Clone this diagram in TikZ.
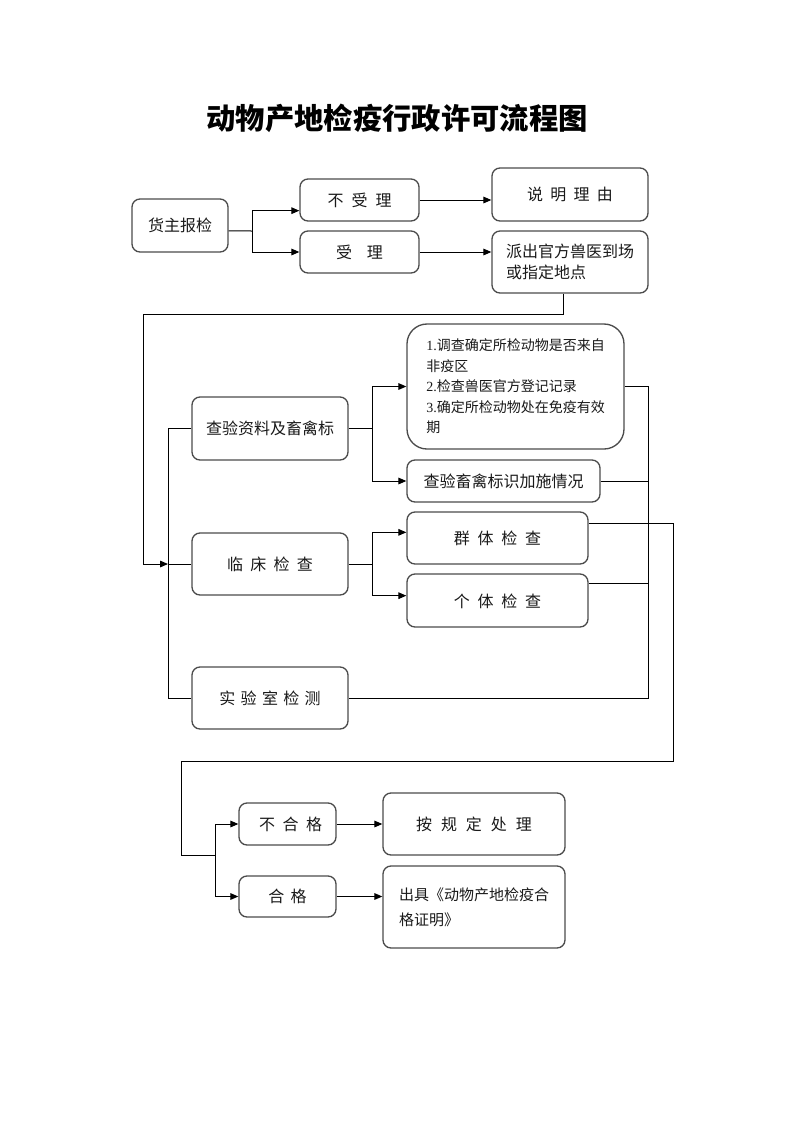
\documentclass[tikz,border=0pt]{standalone}
\usepackage{fontspec}
\setmainfont{Liberation Serif}
\newfontfamily\cjk{Noto Sans CJK SC}
\usetikzlibrary{arrows.meta,calc}
\newcommand\mkbox[7][]{\node[box,minimum width={(#5-#3)*0.75pt},minimum height={(#6-#4)*0.75pt},#1] (#2) at ({(#3+#5)/2},{(#4+#6)/2}) {#7};}
\newcommand\gp[1]{\hspace{#1em}}
\begin{document}
\begin{tikzpicture}[x=0.75pt,y=-0.75pt,
  box/.style={draw=black!70, line width=1pt, rounded corners=6pt, inner sep=0pt,
    font=\cjk\fontsize{12}{15.5}\selectfont, text=black!90},
  conn/.style={line width=0.75pt, draw=black},
  arr/.style={conn, -{Triangle[length=6pt,width=5pt]}}]
\useasboundingbox (0,0) rectangle (793,1122);
\node[font=\cjk\bfseries\fontsize{22}{26}\selectfont] (title) at (397,118) {动物产地检疫行政许可流程图};
\mkbox{hz}{132}{199}{228}{252}{货主报检\gp{0.6}}
\mkbox{bsl}{300}{179}{419}{221}{不\gp{.5}受\gp{.5}理}
\mkbox{sl}{300}{231}{419}{273}{受\gp{.92}理}
\mkbox{smly}{492}{168}{648}{221}{说\gp{.45}明\gp{.45}理\gp{.45}由}
\mkbox[align=left]{pc}{492}{231}{648}{293}{派出官方兽医到场\\或指定地点}
\mkbox{cy}{192}{397}{348}{460}{查验资料及畜禽标}
\mkbox[align=left,rounded corners=15pt,font=\cjk\fontsize{10.5}{15.4}\selectfont]{list}{407}{324}{624}{449}{\textrm{1.}调查确定所检动物是否来自\\非疫区\\\textrm{2.}检查兽医官方登记记录\\\textrm{3.}确定所检动物处在免疫有效\\期}
\mkbox{bs}{407}{460}{600}{502}{查验畜禽标识加施情况}
\mkbox{lc}{192}{533}{348}{595}{临\gp{.45}床\gp{.45}检\gp{.45}查}
\mkbox[text depth=-6pt]{qt}{407}{512}{588}{564}{群\gp{.48}体\gp{.48}检\gp{.48}查}
\mkbox[text depth=-8pt]{gt}{407}{574}{588}{627}{个\gp{.48}体\gp{.48}检\gp{.48}查}
\mkbox{sy}{192}{667}{348}{729}{实\gp{.33}验\gp{.33}室\gp{.33}检\gp{.33}测}
\mkbox{bhg}{239}{803}{336}{845}{\gp{.4}不\gp{.47}合\gp{.47}格}
\mkbox{hg}{239}{876}{336}{917}{合\gp{.4}格}
\mkbox{agd}{383}{793}{565}{855}{按\gp{.56}规\gp{.56}定\gp{.56}处\gp{.56}理}
\mkbox[align=left,font=\cjk\fontsize{11.25}{18.5}\selectfont]{cj}{383}{866}{565}{948}{出具《动物产地检疫合\\格证明》}
% connectors
\coordinate (ja) at (252,231);
\draw[conn] ([yshift=-4pt]hz.east) -- (ja);
\draw[arr] (ja) |- ([yshift=-8pt]bsl.west);
\draw[arr] (ja) |- (sl.west);
\draw[arr] (bsl.east) -- (bsl.east -| smly.west);
\draw[arr] (sl.east) -- (sl.east -| pc.west);
\coordinate (tl) at (143,314);
\coordinate (vx) at (168,0);
\draw[arr] ([xshift=-5.25pt]pc.south) |- (tl) |- (lc.west -| vx);
\draw[conn] (cy.west) -- (cy.west -| vx) -- (sy.west -| vx) -- (sy.west);
\draw[conn] (lc.west -| vx) -- (lc.west);
\coordinate (jb) at (372,0);
\draw[conn] (cy.east) -- (cy.east -| jb);
\draw[arr] (cy.east -| jb) |- (list.west);
\draw[arr] (cy.east -| jb) |- (bs.west);
\draw[conn] (lc.east) -- (lc.east -| jb);
\draw[arr] (lc.east -| jb) |- (qt.west |- lc.north);
\draw[arr] (lc.east -| jb) |- (gt.west |- lc.south);
\coordinate (rx) at (648,0);
\draw[conn] (list.east) -- (list.east -| rx) -- (sy.east -| rx) -- (sy.east);
\draw[conn] (bs.east) -- (bs.east -| rx);
\draw[conn] ([yshift=12.4pt]gt.east) -- ([yshift=12.4pt]gt.east -| rx);
\coordinate (ry) at (673,761);
\coordinate (ly) at (181,855);
\coordinate (jc) at (215,855);
\draw[conn] ([yshift=11.25pt]qt.east) -| (ry) -| (ly) -- (jc);
\draw[arr] (jc) |- (bhg.west);
\draw[arr] (jc) |- (hg.west);
\draw[arr] (bhg.east) -- (bhg.east -| agd.west);
\draw[arr] (hg.east) -- (hg.east -| cj.west);
\end{tikzpicture}
\end{document}
